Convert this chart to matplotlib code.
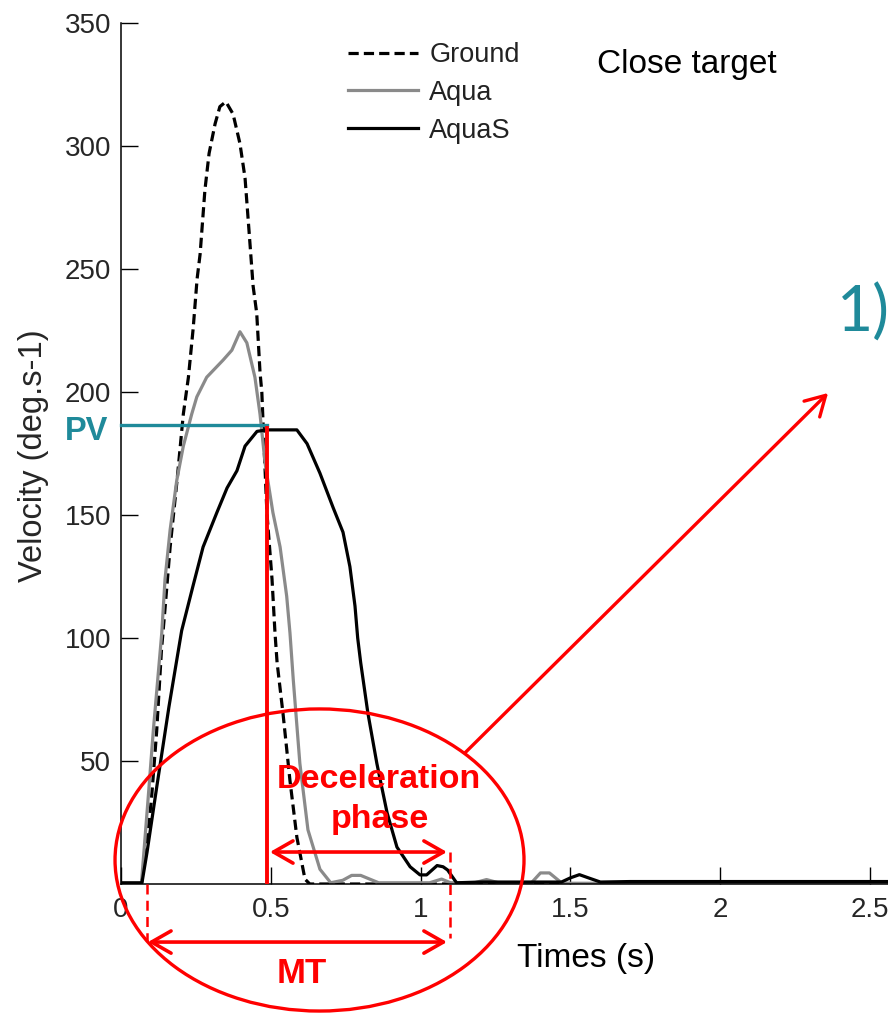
import matplotlib
matplotlib.use("Agg")
import matplotlib.pyplot as plt
from matplotlib.patches import Ellipse

plt.rcParams["font.family"] = ["Liberation Sans", "DejaVu Sans"]

# angular velocity profiles (deg/s) vs time (s), close target
ground_t = [0, 0.068, 0.085, 0.102, 0.119, 0.135, 0.147, 0.164, 0.187, 0.208, 0.225,
            0.241, 0.254, 0.264, 0.280, 0.294, 0.314, 0.330, 0.350, 0.374, 0.397,
            0.414, 0.427, 0.441, 0.453, 0.464, 0.470, 0.475, 0.487, 0.504, 0.514,
            0.521, 0.541, 0.564, 0.587, 0.614, 0.630, 2.56]
ground_v = [0, 0, 15, 35, 62, 95, 112, 137, 164, 191, 206,
            226, 246, 256, 282, 297, 309, 316, 318, 313, 301,
            287, 266, 243, 232, 208, 200, 185, 151, 124, 102,
            90, 69, 42, 19, 2, 0, 0]

aqua_t = [0, 0.068, 0.091, 0.108, 0.136, 0.147, 0.164, 0.186, 0.208, 0.236, 0.253,
          0.286, 0.341, 0.370, 0.397, 0.420, 0.447, 0.464, 0.481, 0.507, 0.531,
          0.553, 0.564, 0.575, 0.597, 0.624, 0.664, 0.700, 0.740, 0.770, 0.800,
          0.830, 0.860, 0.900, 1.030, 1.070, 1.100, 1.180, 1.220, 1.260, 1.370,
          1.400, 1.430, 1.470, 1.500, 2.56]
aqua_v = [0, 0, 35.5, 62.6, 102, 124, 144, 164, 178, 191, 198,
          206, 213, 217, 224.5, 220, 206, 191, 171, 151, 137,
          117, 102, 83, 49, 22, 6, 0.5, 1.5, 3.5, 3.5,
          2, 0.5, 0.5, 0.5, 2, 0.5, 0.5, 1.8, 0.5, 0.5,
          4.5, 4.5, 0.5, 0.3, 0.3]

aquas_t = [0, 0.070, 0.087, 0.120, 0.160, 0.2025, 0.240, 0.274, 0.320, 0.354,
           0.387, 0.414, 0.454, 0.487, 0.587, 0.621, 0.664, 0.708, 0.741, 0.764,
           0.781, 0.790, 0.800, 0.824, 0.854, 0.888, 0.921, 0.965, 0.998, 1.020,
           1.055, 1.075, 1.090, 1.120, 1.200, 1.470, 1.500, 1.530, 1.560, 1.600,
           1.700, 2.000, 2.300, 2.56]
aquas_v = [0.5, 0.5, 13, 40, 72, 103, 121, 137, 151, 161,
           168, 178, 184, 184.6, 184.6, 179, 167, 153, 143, 129,
           113, 100, 90, 69.5, 49, 29, 15, 7, 3.7, 3.7,
           7.5, 7, 5.7, 0.5, 0.8, 0.8, 2.5, 3.8, 2.5, 0.8,
           1, 1, 1, 1]

# annotation values
pv = 186.0          # peak velocity of AquaS
t_pv = 0.487        # time of peak velocity
mt_start, mt_end = 0.087, 1.098

red = "#ff0000"
teal = "#1f8a9a"

fig = plt.figure(figsize=(8.88, 10.13), dpi=100)
ax = fig.add_axes([121 / 888, 129 / 1013, 767 / 888, 861 / 1013])

ax.plot(ground_t, ground_v, color="black", lw=2.3, ls=(0, (3.2, 1.6)), label="Ground")
ax.plot(aqua_t, aqua_v, color="#8a8a8a", lw=2.3, label="Aqua")
ax.plot(aquas_t, aquas_v, color="black", lw=2.3, label="AquaS")

ax.set_xlim(0, 2.56)
ax.set_ylim(0, 350)
ax.set_xticks([0, 0.5, 1, 1.5, 2, 2.5])
ax.set_xticklabels(["0", "0.5", "1", "1.5", "2", "2.5"])
ax.set_yticks([50, 100, 150, 200, 250, 300, 350])
ax.tick_params(direction="in", length=12, width=1, labelsize=20,
               labelcolor="#262626")
ax.tick_params(axis="x", pad=9)
ax.tick_params(axis="y", pad=7)
for s in ["top", "right"]:
    ax.spines[s].set_visible(False)
for s in ["left", "bottom"]:
    ax.spines[s].set_linewidth(1.1)

ax.legend(loc="upper left", bbox_to_anchor=(348 / 888, 1 - 42 / 1013),
          bbox_transform=fig.transFigure, frameon=False, fontsize=19.5,
          handlelength=2.6, handletextpad=0.4, labelspacing=0.44,
          borderpad=0, borderaxespad=0, labelcolor="#222222")

fig.text(34 / 888, 1 - 456 / 1013, "Velocity (deg.s-1)", rotation=90,
         ha="center", va="center", fontsize=23.5, color="#262626")
fig.text(517 / 888, 1 - 967 / 1013, "Times (s)", fontsize=24, va="baseline")
fig.text(597 / 888, 1 - 73 / 1013, "Close target", fontsize=24, va="baseline")
fig.text(837 / 888, 1 - 332 / 1013, "1)", fontsize=45, color=teal,
         family="Lato", va="baseline")

# peak velocity marker
ax.plot([0, t_pv], [pv + 0.5, pv + 0.5], color=teal, lw=2.4, clip_on=False, zorder=5)
ax.plot([t_pv, t_pv], [0, pv - 0.5], color=red, lw=2.8, zorder=5)
ax.text(-0.043, 180.5, "PV", ha="right", va="baseline", color=teal,
        fontsize=23.5, fontweight="bold")

# deceleration phase and movement time
arrow = dict(arrowstyle="<->,head_length=0.7,head_width=0.4", color=red,
             lw=2.6, shrinkA=0, shrinkB=0, mutation_scale=20)
ax.annotate("", xy=(1.088, 13), xytext=(t_pv + 0.01, 13), arrowprops=arrow,
            annotation_clip=False, zorder=6)
ax.annotate("", xy=(1.088, -23.6), xytext=(0.09, -23.6), arrowprops=arrow,
            annotation_clip=False, zorder=6)
dash = dict(color=red, lw=1.8, ls=(0, (4, 2.5)), clip_on=False, zorder=6)
ax.plot([mt_start, mt_start], [0, -23], **dash)
ax.plot([mt_end, mt_end], [13, -22], **dash)

ax.text(0.862, 39, "Deceleration", ha="center", va="baseline", color=red,
        fontsize=24.5, fontweight="bold", zorder=7)
ax.text(0.864, 22.8, "phase", ha="center", va="baseline", color=red,
        fontsize=24.5, fontweight="bold", zorder=7)
ax.text(0.604, -40.2, "MT", ha="center", va="baseline", color=red,
        fontsize=25, fontweight="bold", clip_on=False, zorder=7)

ax.add_patch(Ellipse((0.6626, 9.76), 1.365, 122.8, fill=False, ec=red,
                     lw=2.4, clip_on=False, zorder=6))
ax.annotate("", xy=(2.36, 199.6), xytext=(1.148, 53.3),
            arrowprops=dict(arrowstyle="->,head_length=0.7,head_width=0.4",
                            color=red, lw=2.4, shrinkA=0, shrinkB=0,
                            mutation_scale=20),
            annotation_clip=False, zorder=6)

fig.savefig("out.png", dpi=100, facecolor="white")
